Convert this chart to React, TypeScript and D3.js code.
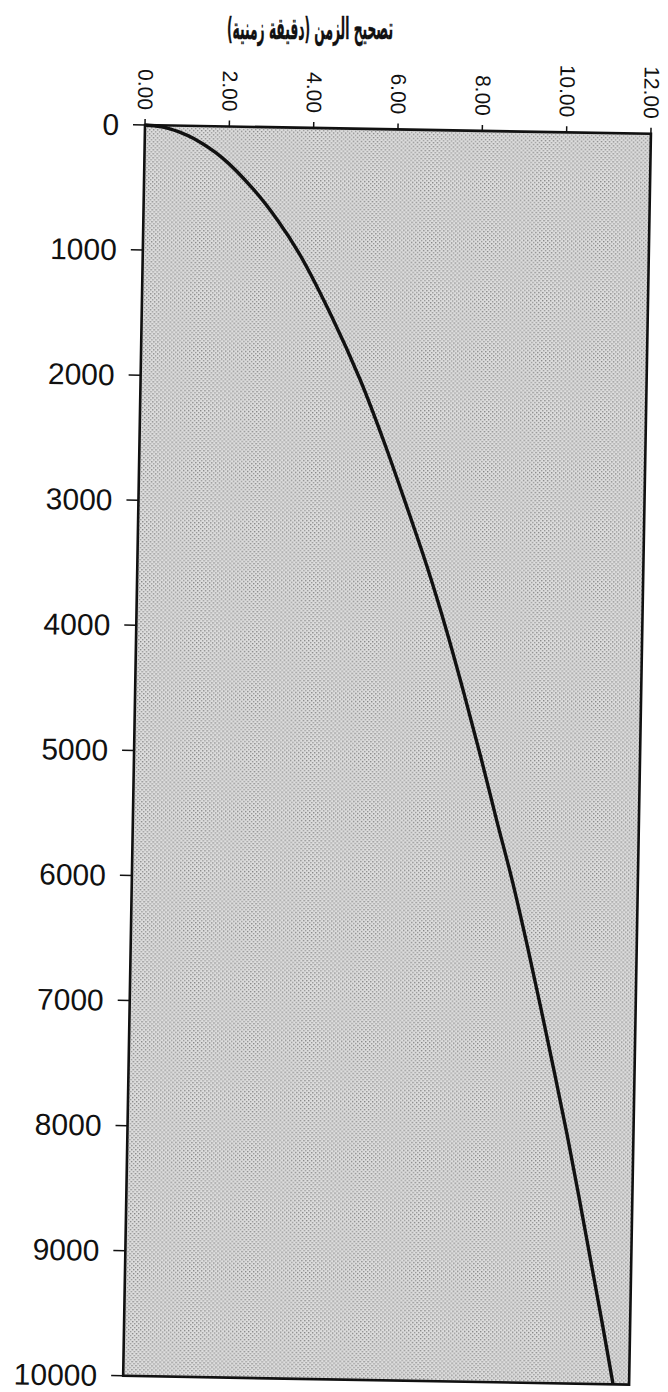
import React from "react";
import * as d3 from "d3";

const depths = [0, 10, 25, 50, 100, 250, 500, 750, 1000, 1500, 2000, 2500, 3000, 3500, 4000, 4500, 5000, 5500, 6000, 6500, 7000, 7500, 8000, 8500, 9000, 9500, 10000];
const corrections = [0, 0.36, 0.57, 0.81, 1.15, 1.84, 2.6, 3.2, 3.7, 4.5, 5.2, 5.8, 6.35, 6.88, 7.36, 7.8, 8.22, 8.62, 9.03, 9.4, 9.75, 10.09, 10.42, 10.73, 11.03, 11.33, 11.62];
const xTicks = [0, 2, 4, 6, 8, 10, 12];
const yTicks = [0, 1000, 2000, 3000, 4000, 5000, 6000, 7000, 8000, 9000, 10000];
const title = "تصحيح الزمن (دقيقة زمنية)";

export default function App() {
  const W = 506;
  const H = 1251;
  const x = d3.scaleLinear().domain([0, 12]).range([0, W]);
  const y = d3.scaleLinear().domain([0, 10000]).range([0, H]);
  const pts: [number, number][] = depths.map((d, i) => [corrections[i], d]);
  const line = d3
    .line<[number, number]>()
    .x((p) => x(p[0]))
    .y((p) => y(p[1]))
    .curve(d3.curveCatmullRom.alpha(0.5));
  const fmt = d3.format(".2f");
  return (
    <svg width={668} height={1392} style={{ position: "absolute", left: 0, top: 0, background: "#fff" }}>
      <defs>
        <pattern id="dots" width="4" height="4" patternUnits="userSpaceOnUse">
          <rect width="4" height="4" fill="#dedede" />
          <rect x="0" y="0" width="1.4" height="1.4" fill="#858585" />
          <rect x="2" y="2" width="1.4" height="1.4" fill="#959595" />
        </pattern>
      </defs>
      <text
        x={310}
        y={39}
        textAnchor="middle"
        fontFamily="DejaVu Sans, sans-serif"
        fontWeight="bold"
        fontSize={30}
        direction="rtl"
        textLength={166}
        lengthAdjust="spacingAndGlyphs"
        stroke="#111"
        strokeWidth={0.4}
        fill="#111"
      >
        {title}
      </text>
      <g transform="translate(145,125) rotate(1)">
        <rect x={0} y={0} width={W} height={H} fill="url(#dots)" />
        <path d={line(pts) || ""} fill="none" stroke="#111" strokeWidth={3.4} />
        <rect x={0} y={0} width={W} height={H} fill="none" stroke="#111" strokeWidth={2.6} />
        {xTicks.map((t) => (
          <g key={"x" + t} transform={`translate(${x(t)},0)`}>
            <line y1={0} y2={-6} stroke="#111" strokeWidth={1.5} />
            <text
              transform="translate(0,-15) rotate(90)"
              textAnchor="end"
              dy="0.35em"
              fontFamily="Liberation Sans, Arial, sans-serif"
              fontSize={21}
              fill="#111"
            >
              {fmt(t)}
            </text>
          </g>
        ))}
        {yTicks.map((t) => (
          <g key={"y" + t} transform={`translate(0,${y(t)})`}>
            <line x1={0} x2={-12} stroke="#111" strokeWidth={1.5} />
            <text
              x={-26}
              dy="0.35em"
              textAnchor="end"
              fontFamily="Liberation Sans, Arial, sans-serif"
              fontSize={30}
              fill="#111"
            >
              {t}
            </text>
          </g>
        ))}
      </g>
    </svg>
  );
}
